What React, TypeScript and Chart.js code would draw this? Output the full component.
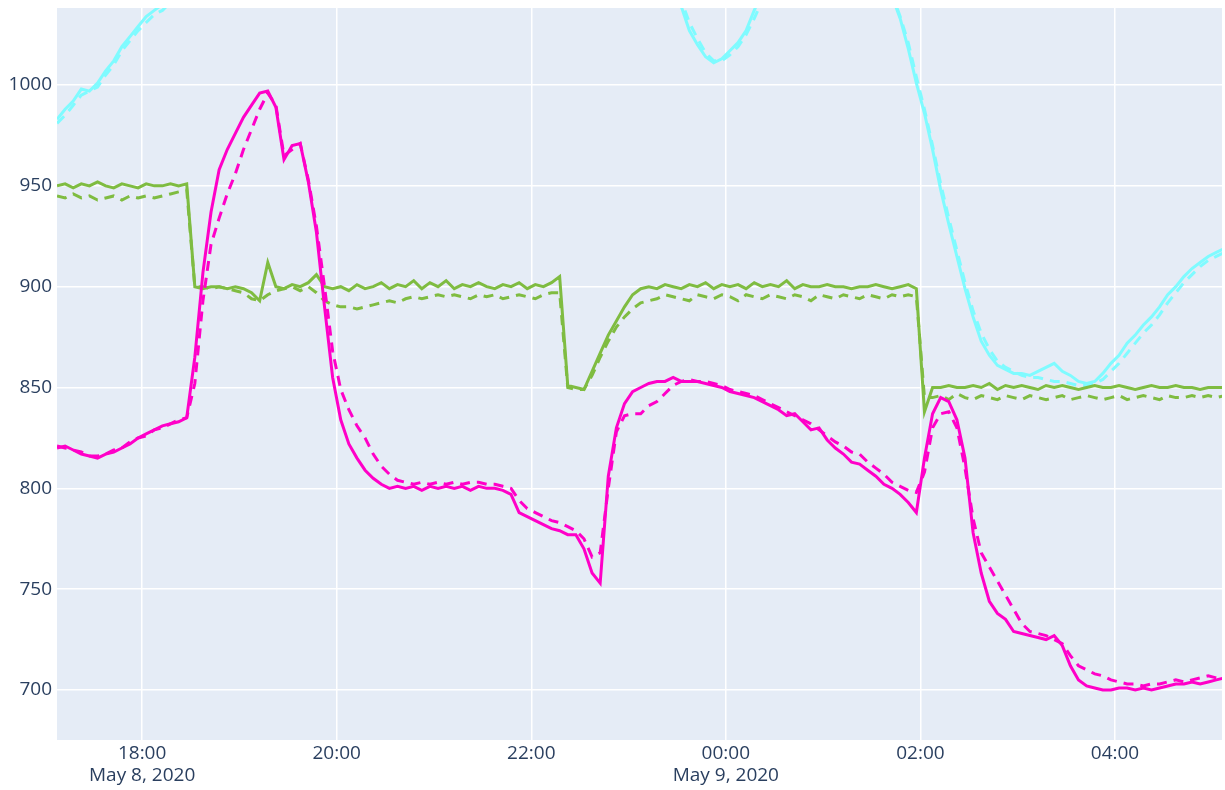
import React, { useEffect, useRef } from 'react';
import { Chart, registerables } from 'chart.js';

Chart.register(...registerables);

// Sampling grid: hours since May 8, 2020 00:00, one sample every 5 minutes
const START_HOUR = 17.125;
const STEP_HOURS = 5 / 60;

const X_MIN = 17.125;
const X_MAX = 29.1;
const Y_MIN = 675.2;
const Y_MAX = 1038.2;

const X_TICKS = [18, 20, 22, 24, 26, 28];
const X_TICK_LABELS: (string | string[])[] = [
  ['18:00', 'May 8, 2020'],
  '20:00',
  '22:00',
  ['00:00', 'May 9, 2020'],
  '02:00',
  '04:00',
];
const Y_TICKS = [700, 750, 800, 850, 900, 950, 1000];

const MAGENTA_SOLID = [
  820, 821, 819, 817, 816, 815, 817, 818, 820, 822,
  825, 827, 829, 831, 832, 833, 835, 865, 907, 937,
  958, 968, 976, 984, 990, 996, 997, 989, 963, 970,
  971, 952, 927, 890, 855, 834, 822, 815, 809, 805,
  802, 800, 801, 800, 801, 799, 801, 800, 801, 800,
  801, 799, 801, 800, 800, 799, 797, 788, 786, 784,
  782, 780, 779, 777, 777, 770, 758, 753, 806, 830,
  842, 848, 850, 852, 853, 853, 855, 853, 853, 853,
  852, 851, 850, 848, 847, 846, 845, 843, 841, 839,
  836, 837, 833, 829, 830, 824, 820, 817, 813, 812,
  809, 806, 802, 800, 797, 793, 788, 815, 837, 845,
  843, 834, 815, 778, 758, 744, 738, 735, 729, 728,
  727, 726, 725, 727, 722, 712, 705, 702, 701, 700,
  700, 701, 701, 700, 701, 700, 701, 702, 703, 703,
  704, 703, 704, 705, 706,
];

const MAGENTA_DASHED = [
  821, 820, 819, 818, 816, 816, 817, 819, 820, 823,
  825, 826, 829, 830, 832, 834, 835, 852, 893, 921,
  934, 946, 956, 968, 978, 988, 996, 990, 965, 968,
  971, 953, 930, 900, 868, 849, 839, 831, 825, 817,
  811, 807, 804, 803, 802, 803, 802, 803, 802, 803,
  802, 803, 803, 802, 802, 801, 800, 794, 790, 788,
  786, 784, 783, 781, 779, 775, 766, 768, 800, 828,
  836, 837, 837, 841, 843, 847, 851, 853, 854, 853,
  853, 852, 851, 849, 848, 847, 846, 844, 842, 840,
  838, 836, 834, 832, 829, 826, 823, 821, 818, 817,
  813, 810, 807, 803, 801, 799, 798, 808, 830, 837,
  838, 830, 810, 785, 768, 761, 754, 747, 740, 733,
  729, 728, 727, 725, 723, 717, 712, 710, 708, 707,
  705, 704, 703, 703, 702, 703, 703, 704, 705, 704,
  705, 706, 707, 706, 707,
];

const GREEN_SOLID = [
  950, 951, 949, 951, 950, 952, 950, 949, 951, 950,
  949, 951, 950, 950, 951, 950, 951, 900, 899, 900,
  900, 899, 900, 899, 897, 893, 912, 900, 899, 901,
  900, 902, 906, 900, 899, 900, 898, 901, 899, 900,
  902, 899, 901, 900, 903, 899, 902, 900, 903, 899,
  901, 900, 902, 900, 899, 901, 900, 902, 899, 901,
  900, 902, 905, 851, 850, 849, 858, 867, 876, 883,
  890, 896, 899, 900, 899, 901, 900, 899, 901, 900,
  902, 899, 901, 900, 901, 899, 902, 900, 901, 900,
  903, 899, 901, 900, 900, 901, 900, 900, 899, 900,
  900, 901, 900, 899, 900, 901, 899, 838, 850, 850,
  851, 850, 850, 851, 850, 852, 849, 851, 850, 851,
  850, 849, 851, 850, 851, 850, 849, 850, 851, 850,
  850, 851, 850, 849, 850, 851, 850, 850, 851, 850,
  850, 849, 850, 850, 850,
];

const GREEN_DASHED = [
  945, 944, 946, 944, 945, 943, 944, 945, 943, 945,
  944, 945, 944, 945, 946, 947, 948, 900, 900, 899,
  900, 899, 898, 897, 894, 893, 896, 898, 899, 900,
  898, 900, 897, 893, 891, 890, 890, 889, 890, 891,
  892, 893, 892, 894, 895, 894, 895, 896, 895, 896,
  895, 894, 896, 895, 896, 894, 895, 896, 895, 894,
  896, 897, 897, 850, 849, 849, 856, 865, 873, 880,
  885, 889, 892, 893, 894, 896, 895, 894, 893, 896,
  895, 894, 896, 895, 893, 896, 895, 894, 896, 895,
  894, 896, 895, 893, 896, 895, 894, 896, 895, 894,
  896, 895, 894, 896, 895, 896, 895, 845, 845, 846,
  844, 847, 845, 844, 846, 845, 844, 846, 845, 844,
  846, 845, 844, 845, 846, 844, 845, 846, 845, 844,
  845, 846, 844, 845, 846, 845, 844, 846, 845, 845,
  846, 845, 846, 845, 846,
];

const CYAN_SOLID = [
  983, 988, 992, 998, 997, 1001, 1007, 1012, 1019, 1024,
  1029, 1034, 1037, 1040, 1044, 1048, 1052, 1056, 1060, 1064,
  1068, 1071, 1074, 1077, 1080, 1082, 1084, 1086, 1088, 1089,
  1090, 1091, 1092, 1093, 1093, 1094, 1094, 1094, 1093, 1093,
  1092, 1091, 1090, 1089, 1088, 1087, 1086, 1085, 1084, 1083,
  1082, 1081, 1080, 1079, 1078, 1077, 1076, 1075, 1074, 1073,
  1072, 1071, 1070, 1069, 1068, 1067, 1066, 1065, 1064, 1063,
  1062, 1061, 1060, 1058, 1056, 1053, 1050, 1039, 1027, 1020,
  1014, 1011, 1013, 1017, 1021, 1027, 1037, 1046, 1055, 1063,
  1070, 1076, 1080, 1083, 1085, 1086, 1085, 1083, 1079, 1074,
  1068, 1061, 1053, 1044, 1033, 1018, 1001, 986, 968, 948,
  931, 915, 899, 885, 873, 866, 861, 859, 857, 857,
  856, 858, 860, 862, 858, 856, 853, 852, 853, 857,
  862, 866, 872, 876, 881, 885, 890, 896, 900, 905,
  909, 912, 915, 917, 919,
];

const CYAN_DASHED = [
  981, 985, 990, 995, 997, 999, 1005, 1010, 1017, 1022,
  1027, 1031, 1035, 1037, 1041, 1046, 1050, 1054, 1058, 1062,
  1066, 1069, 1072, 1075, 1078, 1080, 1082, 1084, 1086, 1087,
  1088, 1089, 1090, 1091, 1091, 1092, 1092, 1092, 1091, 1091,
  1090, 1089, 1088, 1087, 1086, 1085, 1084, 1083, 1082, 1081,
  1080, 1079, 1078, 1077, 1076, 1075, 1074, 1073, 1072, 1071,
  1070, 1069, 1068, 1067, 1066, 1065, 1064, 1063, 1062, 1061,
  1060, 1059, 1058, 1057, 1055, 1053, 1051, 1042, 1031, 1023,
  1016, 1012, 1012, 1015, 1019, 1025, 1033, 1042, 1051, 1059,
  1066, 1072, 1077, 1081, 1083, 1084, 1084, 1082, 1079, 1075,
  1069, 1062, 1054, 1045, 1034, 1021, 1004, 988, 970, 951,
  934, 918, 902, 888, 877, 869, 863, 860, 858, 856,
  855, 855, 854, 853, 853, 852, 851, 851, 852, 854,
  858, 862, 867, 872, 877, 881, 886, 892, 897, 902,
  906, 910, 913, 915, 917,
];

const COLOR_MAGENTA = '#ff00c8';
const COLOR_GREEN = '#7fbc41';
const COLOR_CYAN = '#7ffbff';
const PLOT_BG = '#E5ECF6';
const TEXT_COLOR = '#2a3f5f';
const FONT_FAMILY = '"Open Sans", "Liberation Sans", Arial, sans-serif';

const toPoints = (vals: number[]) =>
  vals.map((y, i) => ({ x: START_HOUR + i * STEP_HOURS, y }));

const plotBgPlugin = {
  id: 'plotBg',
  beforeDraw(chart: any) {
    const { ctx, chartArea } = chart;
    if (!chartArea) return;
    ctx.save();
    ctx.fillStyle = PLOT_BG;
    ctx.fillRect(chartArea.left, chartArea.top, chartArea.right - chartArea.left, chartArea.bottom - chartArea.top);
    ctx.restore();
  },
};

export default function App() {
  const canvasRef = useRef<HTMLCanvasElement | null>(null);

  useEffect(() => {
    const canvas = canvasRef.current;
    if (!canvas) return;
    const mk = (label: string, vals: number[], color: string, dashed: boolean) => ({
      label,
      data: toPoints(vals),
      borderColor: color,
      backgroundColor: color,
      borderWidth: 3,
      borderDash: dashed ? [10, 7] : [],
      pointRadius: 0,
      pointHoverRadius: 0,
      tension: 0,
      fill: false,
      clip: 0,
    });
    const chart = new Chart(canvas, {
      type: 'line',
      data: {
        datasets: [
          mk('magenta', MAGENTA_SOLID, COLOR_MAGENTA, false),
          mk('magenta dashed', MAGENTA_DASHED, COLOR_MAGENTA, true),
          mk('green', GREEN_SOLID, COLOR_GREEN, false),
          mk('green dashed', GREEN_DASHED, COLOR_GREEN, true),
          mk('cyan', CYAN_SOLID, COLOR_CYAN, false),
          mk('cyan dashed', CYAN_DASHED, COLOR_CYAN, true),
        ] as any,
      },
      options: {
        animation: false,
        responsive: false,
        devicePixelRatio: 1,
        layout: { padding: { top: 8, right: 3, left: 0, bottom: 0 } },
        plugins: {
          legend: { display: false },
          tooltip: { enabled: false },
          title: { display: false },
        },
        scales: {
          x: {
            type: 'linear',
            min: X_MIN,
            max: X_MAX,
            afterBuildTicks: (s: any) => {
              s.ticks = X_TICKS.map((v) => ({ value: v }));
            },
            afterFit: (s: any) => {
              s.height = 50;
              s.paddingLeft = 0;
              s.paddingRight = 0;
            },
            ticks: {
              autoSkip: false,
              maxRotation: 0,
              minRotation: 0,
              padding: 3,
              color: TEXT_COLOR,
              font: { family: FONT_FAMILY, size: 19, lineHeight: '22px' as any },
              callback: (_v: any, i: number) => X_TICK_LABELS[i],
            },
            grid: { color: '#ffffff', lineWidth: 1.5, drawTicks: false },
            border: { display: false },
          },
          y: {
            type: 'linear',
            min: Y_MIN,
            max: Y_MAX,
            afterBuildTicks: (s: any) => {
              s.ticks = Y_TICKS.map((v) => ({ value: v }));
            },
            afterFit: (s: any) => {
              s.width = 57;
              s.paddingTop = 0;
              s.paddingBottom = 0;
            },
            ticks: {
              padding: 5,
              color: TEXT_COLOR,
              font: { family: FONT_FAMILY, size: 19 },
              callback: (v: any) => String(v),
            },
            grid: { color: '#ffffff', lineWidth: 1.5, drawTicks: false },
            border: { display: false },
          },
        },
      } as any,
      plugins: [plotBgPlugin],
    });
    return () => chart.destroy();
  }, []);

  return (
    <div style={{ position: 'absolute', left: 0, top: 0, width: 1225, height: 790, background: '#fff' }}>
      <canvas ref={canvasRef} width={1225} height={790} style={{ display: 'block', width: 1225, height: 790 }} />
    </div>
  );
}
